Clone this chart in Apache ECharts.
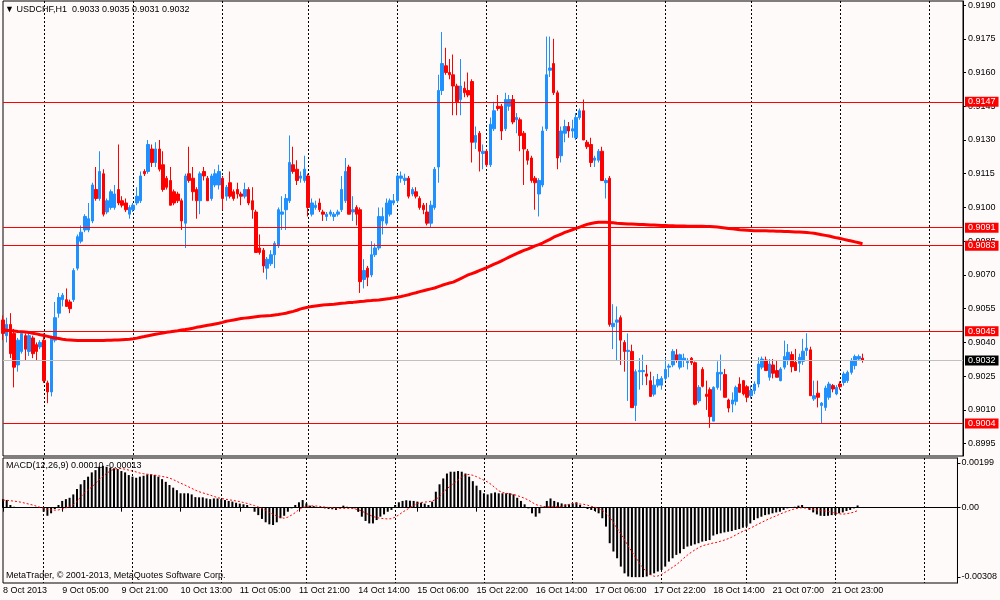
<!DOCTYPE html>
<html>
<head>
<meta charset="utf-8">
<script src="https://cdn.jsdelivr.net/npm/echarts@6.0.0/dist/echarts.min.js"></script>
<style>
  html, body { margin: 0; padding: 0; background: #fffafa; }
  #chart { width: 1000px; height: 600px; }
</style>
</head>
<body>
<div id="chart"></div>
<script>
// USDCHF H1, one entry per bar (232 bars)
var open = [
  0.9050,0.9043,0.9048,0.9044,0.9030,0.9036,0.9043,0.9036,0.9042,0.9039,0.9038,0.9041,0.9022,0.9018,0.9041,0.9053,
  0.9059,0.9059,0.9058,0.9059,0.9073,0.9085,0.9090,0.9090,0.9094,0.9108,0.9104,0.9115,0.9098,0.9100,0.9100,0.9108,
  0.9103,0.9102,0.9097,0.9099,0.9102,0.9103,0.9116,0.9116,0.9126,0.9120,0.9126,0.9119,0.9113,0.9112,0.9107,0.9106,
  0.9103,0.9093,0.9115,0.9113,0.9108,0.9103,0.9116,0.9113,0.9104,0.9110,0.9110,0.9113,0.9105,0.9111,0.9107,0.9108,
  0.9106,0.9105,0.9108,0.9103,0.9098,0.9082,0.9081,0.9073,0.9075,0.9079,0.9083,0.9097,0.9099,0.9103,0.9119,0.9117,
  0.9113,0.9112,0.9114,0.9097,0.9100,0.9102,0.9098,0.9096,0.9097,0.9096,0.9097,0.9099,0.9103,0.9118,0.9098,0.9100,
  0.9099,0.9068,0.9073,0.9070,0.9079,0.9082,0.9094,0.9093,0.9097,0.9102,0.9103,0.9113,0.9112,0.9113,0.9106,0.9107,
  0.9104,0.9101,0.9098,0.9093,0.9100,0.9118,0.9152,0.9163,0.9160,0.9159,0.9154,0.9148,0.9153,0.9152,0.9156,0.9129,
  0.9133,0.9124,0.9125,0.9119,0.9135,0.9145,0.9145,0.9135,0.9145,0.9148,0.9139,0.9139,0.9133,0.9125,0.9122,0.9113,
  0.9106,0.9110,0.9135,0.9161,0.9164,0.9151,0.9123,0.9133,0.9136,0.9134,0.9131,0.9140,0.9143,0.9129,0.9128,0.9121,
  0.9121,0.9125,0.9111,0.9113,0.9047,0.9049,0.9051,0.9040,0.9036,0.9036,0.9012,0.9027,0.9027,0.9026,0.9023,0.9017,
  0.9021,0.9021,0.9024,0.9029,0.9030,0.90345,0.9029,0.9032,0.9031,0.9033,0.9031,0.9014,0.9028,0.9017,0.9019,0.9005,
  0.9020,0.9026,0.90257,0.90144,0.90126,0.90138,0.90215,0.9023,0.90203,0.90163,0.90186,0.90215,0.9029,0.90322,0.90245,0.9030,
  0.90275,0.9023,0.9029,0.90319,0.90346,0.90312,0.90307,0.90316,0.90364,0.90367,0.90149,0.90174,0.9012,0.90111,0.90156,0.90208,
  0.90171,0.90215,0.90222,0.9023,0.90267,0.90297,0.90326,0.9033
];
var high = [
  0.9052,0.9051,0.9053,0.9046,0.9042,0.9045,0.9044,0.9044,0.9043,0.9040,0.9041,0.9044,0.9023,0.9043,0.9058,0.9062,
  0.9062,0.9064,0.9059,0.9073,0.9088,0.9092,0.9097,0.9102,0.9111,0.9118,0.9125,0.9117,0.9104,0.9108,0.9110,0.9128,
  0.9105,0.9104,0.9101,0.9102,0.9109,0.9116,0.9117,0.9130,0.9128,0.9129,0.9130,0.9125,0.9114,0.9118,0.9108,0.9107,
  0.9104,0.9115,0.9127,0.9118,0.9109,0.9116,0.9118,0.9114,0.9115,0.9117,0.9119,0.9114,0.9110,0.9116,0.9108,0.9111,
  0.9107,0.9111,0.9109,0.9109,0.9099,0.9088,0.9082,0.9078,0.9081,0.9085,0.9100,0.9105,0.9106,0.9132,0.9127,0.9121,
  0.9116,0.9123,0.9115,0.9104,0.9103,0.9104,0.9099,0.9098,0.9099,0.9098,0.9099,0.9114,0.9122,0.9119,0.9105,0.9101,
  0.9100,0.9077,0.9074,0.9085,0.9084,0.9100,0.9100,0.9104,0.9104,0.9106,0.9115,0.9116,0.9115,0.9114,0.9109,0.9109,
  0.9105,0.9102,0.9102,0.9103,0.9118,0.9159,0.9178,0.9171,0.9166,0.9168,0.9155,0.9166,0.9156,0.9160,0.9157,0.9136,
  0.9134,0.9128,0.9126,0.9140,0.9147,0.9150,0.9146,0.9151,0.9150,0.9150,0.9142,0.9140,0.9134,0.9126,0.9123,0.9114,
  0.9113,0.9136,0.9176,0.9176,0.9175,0.9152,0.9136,0.9139,0.9138,0.9139,0.9142,0.9144,0.9148,0.9130,0.9131,0.9123,
  0.9126,0.9127,0.9113,0.9114,0.9057,0.9056,0.9052,0.9041,0.9044,0.9039,0.9028,0.9033,0.90345,0.9030,0.9027,0.9025,
  0.9026,0.9025,0.9033,0.90305,0.9037,0.9037,0.9035,0.9035,0.9033,0.90335,0.90315,0.9021,0.9029,0.9023,0.9020,0.90205,
  0.90316,0.90346,0.90282,0.9015,0.90178,0.90208,0.90245,0.90233,0.9021,0.90208,0.90227,0.90334,0.90337,0.90337,0.90326,0.90326,
  0.90322,0.9029,0.90408,0.90393,0.9036,0.90371,0.9035,0.90416,0.90441,0.90381,0.9023,0.9023,0.90135,0.90208,0.90225,0.90215,
  0.9021,0.90227,0.9027,0.90275,0.9033,0.90346,0.90346,0.9035
];
var low = [
  0.9041,0.9040,0.9033,0.9020,0.9027,0.9035,0.9032,0.9034,0.9033,0.9032,0.9037,0.9022,0.9013,0.9016,0.9040,0.9051,
  0.9056,0.9056,0.9053,0.9058,0.9072,0.9084,0.9089,0.9089,0.9093,0.9103,0.9103,0.9096,0.9097,0.9099,0.9099,0.9101,
  0.9100,0.9098,0.9095,0.9098,0.9101,0.9102,0.9114,0.9115,0.9118,0.9118,0.9116,0.9107,0.9108,0.9101,0.9101,0.9102,
  0.9090,0.9082,0.9111,0.9103,0.9095,0.9097,0.9112,0.9103,0.9103,0.9109,0.9108,0.9099,0.9103,0.9104,0.9103,0.9104,
  0.9101,0.9104,0.9101,0.9095,0.9080,0.9079,0.9071,0.9068,0.9074,0.9073,0.9082,0.9090,0.9090,0.9102,0.9115,0.9110,
  0.9111,0.9111,0.9096,0.9096,0.9099,0.9098,0.9094,0.9094,0.9096,0.9094,0.9096,0.9098,0.9102,0.9097,0.9094,0.9092,
  0.9062,0.9064,0.9065,0.9069,0.9078,0.9081,0.9088,0.9092,0.9096,0.9101,0.9102,0.9111,0.9110,0.9104,0.9105,0.9104,
  0.9099,0.9097,0.9092,0.9091,0.9099,0.9111,0.9150,0.9159,0.9157,0.9141,0.9141,0.9141,0.9149,0.9149,0.9120,0.9126,
  0.9116,0.9117,0.9118,0.9118,0.9134,0.9143,0.9130,0.9134,0.9143,0.9137,0.9133,0.9125,0.9110,0.9119,0.9111,0.9099,
  0.9096,0.9109,0.9134,0.9158,0.9150,0.9117,0.9120,0.9129,0.9131,0.9131,0.9130,0.9139,0.9130,0.9126,0.9118,0.9118,
  0.9120,0.9112,0.9104,0.9047,0.9037,0.9032,0.9030,0.9027,0.9014,0.9011,0.9005,0.9019,0.9021,0.9021,0.9016,0.9016,
  0.9020,0.9019,0.9023,0.90245,0.9029,0.9031,0.9028,0.9029,0.9028,0.9030,0.9012,0.9013,0.9020,0.9010,0.9002,0.9005,
  0.9019,0.90186,0.90156,0.90089,0.90089,0.9012,0.90178,0.90164,0.90134,0.9015,0.9017,0.9020,0.9028,0.90275,0.9023,0.9024,
  0.90245,0.90227,0.9028,0.9030,0.90267,0.90275,0.90267,0.9030,0.9034,0.90163,0.9014,0.90111,0.90037,0.90096,0.90145,0.90178,
  0.90165,0.9019,0.90208,0.9022,0.90257,0.9028,0.90319,0.9031
];
var close = [
  0.9044,0.9048,0.9035,0.9029,0.9041,0.9044,0.9037,0.9043,0.9035,0.9036,0.9040,0.9023,0.9018,0.9042,0.9051,0.9060,
  0.9061,0.9056,0.9055,0.9072,0.9087,0.9089,0.9096,0.9095,0.9110,0.9104,0.9116,0.9097,0.9103,0.9107,0.9106,0.9102,
  0.9101,0.9099,0.9100,0.9101,0.9105,0.9114,0.9115,0.9128,0.9120,0.9126,0.9117,0.9108,0.9109,0.9101,0.9102,0.9103,
  0.9094,0.9114,0.9112,0.9107,0.9103,0.9115,0.9114,0.9103,0.9114,0.9115,0.9116,0.9104,0.9109,0.9105,0.9104,0.9106,
  0.9105,0.9108,0.9102,0.9099,0.9080,0.9080,0.9074,0.9077,0.9079,0.9084,0.9099,0.9098,0.9104,0.9120,0.9116,0.9112,
  0.9114,0.9117,0.9100,0.9102,0.9101,0.9099,0.9097,0.9097,0.9098,0.9097,0.9098,0.9108,0.9116,0.9097,0.9099,0.9097,
  0.9067,0.9072,0.9069,0.9079,0.9082,0.9096,0.9096,0.9102,0.9103,0.9103,0.9114,0.9114,0.9113,0.9105,0.9108,0.9105,
  0.9100,0.9099,0.9093,0.9101,0.9117,0.9152,0.9164,0.9160,0.9159,0.9154,0.9147,0.9154,0.9151,0.9150,0.9129,0.9132,
  0.9125,0.9125,0.9119,0.9137,0.9143,0.9144,0.9134,0.9148,0.9148,0.9138,0.9140,0.9132,0.9126,0.9121,0.9112,0.9111,
  0.9112,0.9134,0.9159,0.9162,0.9151,0.9122,0.9134,0.9136,0.9134,0.9135,0.9140,0.9143,0.9130,0.9127,0.9120,0.9122,
  0.9125,0.9112,0.9112,0.9048,0.90485,0.9050,0.9041,0.9036,0.90365,0.9011,0.9027,0.90275,0.90275,0.9025,0.9016,0.9021,
  0.90235,0.9024,0.9028,0.90295,0.9036,0.9032,0.90345,0.9033,0.90315,0.9031,0.90125,0.9020,0.90205,0.9016,0.9007,0.9020,
  0.90267,0.90267,0.90156,0.90108,0.90144,0.9020,0.90178,0.90171,0.90156,0.90186,0.90215,0.90304,0.90326,0.90275,0.90304,0.90263,
  0.90245,0.90282,0.90337,0.90356,0.90292,0.90275,0.90334,0.90361,0.90375,0.90163,0.90163,0.90156,0.9013,0.90197,0.90215,0.90193,
  0.9020,0.90203,0.9026,0.90267,0.90319,0.90337,0.90337,0.9032
];
// red moving average drawn over the candles
var ma = [
  0.90456,0.90454,0.90453,0.90451,0.90449,0.90448,0.90446,0.90444,0.90441,0.90438,0.90434,0.90431,0.90427,0.90423,0.90420,0.90417,
  0.90414,0.90412,0.90411,0.90410,0.90409,0.90409,0.90409,0.90409,0.90409,0.90409,0.90409,0.90409,0.90410,0.90410,0.90411,0.90411,
  0.90412,0.90413,0.90414,0.90416,0.90419,0.90423,0.90426,0.90430,0.90433,0.90436,0.90439,0.90442,0.90445,0.90447,0.90450,0.90452,
  0.90455,0.90457,0.90460,0.90463,0.90467,0.90470,0.90473,0.90476,0.90479,0.90482,0.90485,0.90489,0.90494,0.90497,0.90500,0.90503,
  0.90506,0.90508,0.90510,0.90512,0.90514,0.90516,0.90518,0.90519,0.90520,0.90522,0.90524,0.90527,0.90530,0.90534,0.90538,0.90543,
  0.90549,0.90553,0.90557,0.90560,0.90562,0.90564,0.90566,0.90568,0.90569,0.90570,0.90572,0.90574,0.90575,0.90577,0.90578,0.90580,
  0.90582,0.90583,0.90585,0.90586,0.90588,0.90589,0.90591,0.90593,0.90595,0.90598,0.90601,0.90604,0.90608,0.90612,0.90617,0.90621,
  0.90626,0.90630,0.90634,0.90638,0.90642,0.90648,0.90654,0.90659,0.90664,0.90668,0.90676,0.90684,0.90692,0.90700,0.90706,0.90712,
  0.90719,0.90726,0.90733,0.90740,0.90748,0.90755,0.90763,0.90771,0.90779,0.90787,0.90795,0.90802,0.90809,0.90815,0.90822,0.90829,
  0.90835,0.90842,0.90850,0.90858,0.90868,0.90875,0.90882,0.90889,0.90895,0.90901,0.90907,0.90913,0.90919,0.90925,0.90929,0.90932,
  0.90934,0.90934,0.90934,0.90933,0.90932,0.90930,0.90929,0.90928,0.90927,0.90926,0.90925,0.90924,0.90924,0.90923,0.90922,0.90922,
  0.90921,0.90920,0.90920,0.90919,0.90919,0.90918,0.90918,0.90918,0.90917,0.90917,0.90917,0.90916,0.90916,0.90915,0.90915,0.90914,
  0.90913,0.90911,0.90909,0.90907,0.90905,0.90903,0.90901,0.90900,0.90899,0.90898,0.90897,0.90897,0.90896,0.90896,0.90895,0.90895,
  0.90894,0.90894,0.90893,0.90893,0.90892,0.90891,0.90891,0.90890,0.90889,0.90887,0.90885,0.90882,0.90879,0.90876,0.90873,0.90869,
  0.90865,0.90862,0.90858,0.90854,0.90851,0.90847,0.90843,0.90839
];
// MACD(12,26,9) in units of 0.00001
var macdHist = [
  38,34,12,4,3,3,1.5,1.5,1,0,0,-18,-36,-25,-6,12,
  30,38,44,59,83,104,123,138,157,167,182,186,182,178,175,172,
  163,157,145,138,133,138,142,148,148,145,138,127,115,101,89,78,
  64,64,64,59,47,46,46,41,38,41,41,38,34,30,27,22,
  18,15,12,3,-18,-33,-50,-65,-74,-77,-65,-47,-36,-18,-3,12,
  24,34,19,9,7,3,0,-3,-6,-7,-10,-3,9,4,0,-3,
  -18,-40,-59,-70,-70,-55,-40,-30,-18,-10,12,24,30,33,31,30,
  27,22,18,12,27,71,104,130,152,160,160,163,160,152,138,118,
  98,78,64,59,64,68,64,64,64,64,59,44,30,15,-3,-25,
  -40,-25,4,30,41,30,24,19,15,15,19,24,12,4,-6,-10,
  -15,-25,-47,-84,-158,-195,-225,-262,-292,-306,-309,-309,-309,-309,-306,-299,
  -292,-284,-277,-262,-240,-225,-210,-203,-184,-173,-169,-163,-158,-151,-148,-144,
  -124,-118,-114,-110,-107,-104,-99,-95,-89,-84,-70,-55,-47,-40,-33,-30,
  -25,-21,-18,-10,-3,0,4,9,12,0,-10,-21,-30,-36,-37,-36,
  -33,-33,-25,-21,-15,-10,-3,10
];
var macdSignal = [
  34,33,31,29,27,24,20,16,12,7,2,-2,-8,-10,-11,-10,
  -6,-1,6,14,28,48,66,80,92,108,124,140,152,164,171,175,
  174,171,167,163,159,154,151,149,147,145,142,139,136,132,125,117,
  109,102,94,86,78,71,66,61,56,50,45,41,38,35,33,30,
  27,23,19,14,9,3,-3,-12,-21,-30,-37,-43,-47,-42,-33,-22,
  -8,0,5,8,8,7,5,3,1,0,-2,-3,-3,-3,-3,-5,
  -9,-15,-24,-32,-39,-44,-47,-49,-50,-49,-42,-32,-20,-10,0,10,
  19,23,25,26,30,36,50,68,84,98,110,123,136,146,148,144,
  138,130,122,114,103,89,75,68,64,61,59,54,48,42,34,24,
  14,9,6,4,4,4,4,6,10,15,19,18,16,15,11,6,
  2,-3,-12,-24,-42,-67,-92,-117,-143,-170,-196,-222,-245,-268,-286,-298,
  -305,-304,-297,-287,-276,-265,-254,-240,-225,-211,-199,-188,-178,-170,-165,-161,
  -157,-154,-149,-144,-138,-131,-122,-113,-105,-98,-91,-83,-74,-66,-58,-50,
  -43,-36,-29,-22,-16,-10,-5,-2,0,-2,-5,-8,-10,-12,-14,-17,
  -20,-24,-27,-29,-27,-24,-20,-13
];

// one label every 16 bars, starting at bar 0
var timeLabels = ['8 Oct 2013', '9 Oct 05:00', '9 Oct 21:00', '10 Oct 13:00', '11 Oct 05:00',
  '11 Oct 21:00', '14 Oct 14:00', '15 Oct 06:00', '15 Oct 22:00', '16 Oct 14:00',
  '17 Oct 06:00', '17 Oct 22:00', '18 Oct 14:00', '21 Oct 07:00', '21 Oct 23:00'];
var priceTicks = [0.8995, 0.9010, 0.9025, 0.9040, 0.9055, 0.9070, 0.9085, 0.9100,
  0.9115, 0.9130, 0.9145, 0.9160, 0.9175, 0.9190];
var macdTicks = [199, 0, -308];
var levels = [0.9147, 0.9091, 0.9083, 0.9045, 0.9004];
var bid = 0.9032;
var gridBars = [11, 35, 59, 82, 106, 130, 154, 178, 201, 225, 249];
var slots = 259;   // bar slots across the window, right part left empty

var font = '"Liberation Sans", "DejaVu Sans", sans-serif';

var cats = [];
for (var i = 0; i < slots; i++) cats.push(String(i));

var candles = [];
for (var i = 0; i < close.length; i++) {
    candles.push([open[i], close[i], low[i], high[i]]);
}

function isGrid(index) {
    return gridBars.indexOf(index) !== -1;
}
function isLabel(index) {
    return index % 16 === 0 && index / 16 < timeLabels.length;
}

var vgrid = {
    show: true,
    interval: isGrid,
    lineStyle: { color: '#000', width: 1, type: [2, 2] }
};

function priceLine(v, lineColor, boxColor) {
    return {
        yAxis: v,
        lineStyle: { color: lineColor, width: 1, type: 'solid' },
        label: {
            show: true, position: 'end', distance: 2,
            formatter: v.toFixed(4),
            backgroundColor: boxColor, color: '#fff',
            padding: [1, 3, 0, 3], fontSize: 9, fontFamily: font
        }
    };
}
var levelLines = levels.map(function(v) { return priceLine(v, '#ff0000', '#ff0000'); });
levelLines.push(priceLine(bid, '#c0c0c0', '#000'));

echarts.init(document.getElementById('chart')).setOption({
    animation: false,
    backgroundColor: '#fffafa',
    title: [{
        text: '\u25BC USDCHF,H1  0.9033 0.9035 0.9031 0.9032',
        left: 5, top: 5, padding: 0,
        textStyle: { fontSize: 9, fontWeight: 'normal', color: '#000', fontFamily: font }
    }, {
        text: 'MACD(12,26,9) 0.00010 -0.00013',
        left: 6, top: 461, padding: 0,
        textStyle: { fontSize: 9, fontWeight: 'normal', color: '#000', fontFamily: font }
    }, {
        text: 'MetaTrader, \u00A9 2001-2013, MetaQuotes Software Corp.',
        left: 6, top: 571, padding: 0,
        textStyle: { fontSize: 9, fontWeight: 'normal', color: '#000', fontFamily: font }
    }],
    grid: [
        { left: 3, right: 37, top: 1, height: 455, show: true, borderColor: '#000', borderWidth: 1 },
        { left: 3, right: 37, top: 458, height: 125, show: true, borderColor: '#000', borderWidth: 1 }
    ],
    xAxis: [{
        type: 'category', gridIndex: 0, data: cats, boundaryGap: false,
        axisLine: { show: false }, axisTick: { show: false }, axisLabel: { show: false },
        splitLine: vgrid
    }, {
        type: 'category', gridIndex: 1, data: cats, boundaryGap: false,
        axisLine: { show: true, lineStyle: { color: '#000' } },
        axisTick: { show: true, interval: isLabel, length: 4, lineStyle: { color: '#000' } },
        axisLabel: {
            interval: isLabel, align: 'left', margin: 3,
            color: '#000', fontSize: 9, fontFamily: font,
            formatter: function(value) {
                var n = Number(value);
                return isLabel(n) ? timeLabels[n / 16] : '';
            }
        },
        splitLine: vgrid
    }],
    yAxis: [{
        type: 'value', gridIndex: 0, position: 'right',
        min: 0.89895, max: 0.91918,
        axisLine: { show: true, lineStyle: { color: '#000' } },
        axisTick: { show: true, customValues: priceTicks, length: 3, lineStyle: { color: '#000' } },
        axisLabel: {
            customValues: priceTicks, margin: 5,
            color: '#000', fontSize: 9, fontFamily: font,
            formatter: function(v) { return v.toFixed(4); }
        },
        splitLine: { show: false }
    }, {
        type: 'value', gridIndex: 1, position: 'right',
        min: -335, max: 221,
        axisLine: { show: true, lineStyle: { color: '#000' } },
        axisTick: { show: true, customValues: macdTicks, length: 3, lineStyle: { color: '#000' } },
        axisLabel: {
            customValues: macdTicks, margin: 4,
            color: '#000', fontSize: 9, fontFamily: font,
            formatter: function(v) { return v === 0 ? '0.00' : (v / 100000).toFixed(5); }
        },
        splitLine: { show: false }
    }],
    series: [{
        type: 'candlestick',
        xAxisIndex: 0, yAxisIndex: 0,
        data: candles,
        barWidth: 3,
        itemStyle: {
            color: '#1e90ff', color0: '#ff0000',
            borderColor: '#1e90ff', borderColor0: '#ff0000',
            borderWidth: 1
        }
    }, {
        type: 'line',
        xAxisIndex: 0, yAxisIndex: 0,
        data: ma,
        symbol: 'none',
        lineStyle: { color: '#ff0000', width: 3 },
        z: 3,
        markLine: {
            silent: true, symbol: 'none', animation: false,
            precision: 5,
            data: levelLines
        }
    }, {
        type: 'bar',
        xAxisIndex: 1, yAxisIndex: 1,
        data: macdHist,
        barWidth: 2,
        itemStyle: { color: '#000' }
    }, {
        type: 'line',
        xAxisIndex: 1, yAxisIndex: 1,
        data: macdSignal,
        symbol: 'none',
        lineStyle: { color: '#ff0000', width: 1, type: [2, 2] },
        z: 3
    }]
});
</script>
</body>
</html>
